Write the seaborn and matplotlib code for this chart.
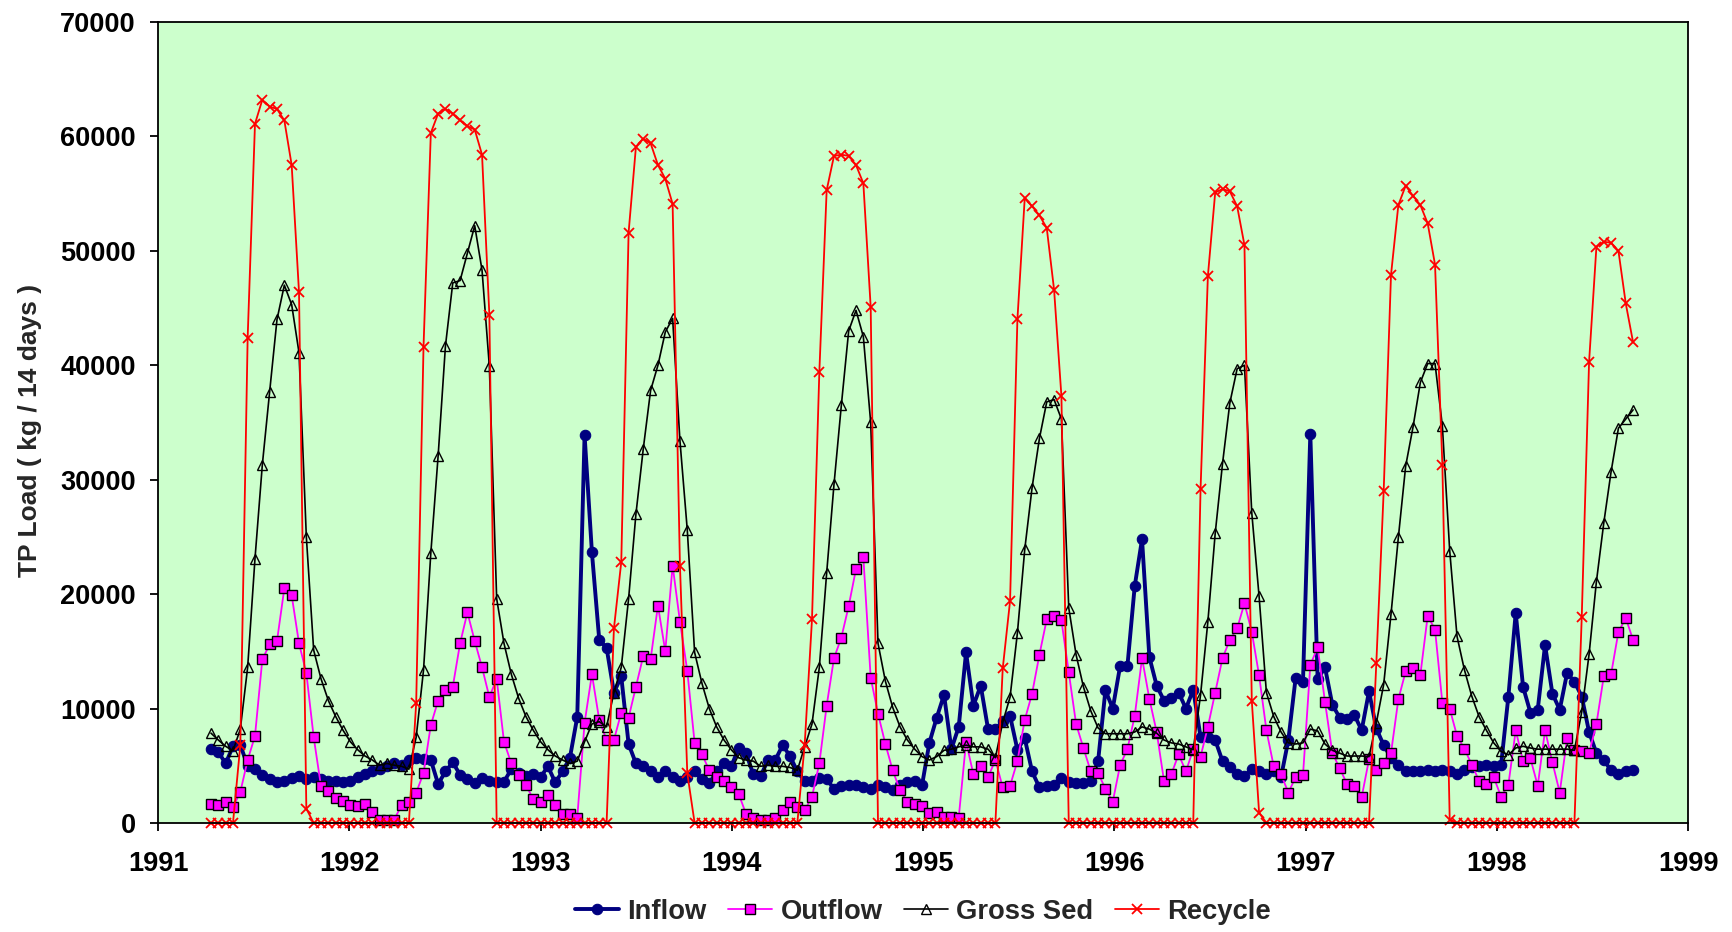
import matplotlib
matplotlib.use("Agg")
import matplotlib.pyplot as plt
import seaborn as sns
import pandas as pd
import numpy as np

# biweekly samples, first one in April 1991
start_date = "1991-04-12"

inflow = [
    6500, 6200, 5200, 6700, 6800, 5000, 4700, 4200, 3800, 3600,
    3700, 3900, 4100, 3800, 4000, 3800, 3700, 3700, 3600, 3700,
    4000, 4300, 4500, 4700, 5000, 5200, 5100, 5500, 5700, 5600,
    5500, 3400, 4500, 5300, 4200, 3800, 3500, 3900, 3700, 3600,
    3600, 4700, 4400, 4100, 4250, 4000, 4950, 3550, 4500, 5700,
    9250, 33900, 23650, 16000, 15300, 11400, 12800, 6900, 5200, 4950,
    4500, 4000, 4500, 4000, 3700, 4000, 4500, 3800, 3450, 4500,
    5200, 4950, 6550, 6100, 4250, 4100, 5500, 5500, 6800, 5850,
    4500, 3650, 3650, 3900, 3800, 3000, 3200, 3300, 3300, 3100,
    3000, 3300, 3100, 2850, 3300, 3550, 3700, 3300, 7000, 9200,
    11200, 6450, 8400, 14900, 10250, 12000, 8200, 8200, 8900, 9350,
    6400, 7400, 4500, 3100, 3200, 3300, 3900, 3550, 3450, 3450,
    3650, 5400, 11600, 10000, 13700, 13700, 20700, 24800, 14500, 12000,
    10700, 10950, 11400, 10000, 11650, 7500, 7500, 7250, 5400, 4850,
    4250, 4100, 4700, 4500, 4250, 4500, 4000, 7250, 12700, 12350,
    34000, 12550, 13600, 10350, 9200, 9100, 9450, 8100, 11500, 8250,
    6800, 5700, 5050, 4500, 4500, 4500, 4600, 4500, 4600, 4500,
    4250, 4600, 4850, 4950, 5050, 4950, 5050, 11050, 18350, 11900,
    9650, 9900, 15550, 11300, 9900, 13100, 12350, 11050, 7950, 6100,
    5500, 4600, 4250, 4500, 4650,
]

outflow = [
    1700, 1600, 1850, 1400, 2700, 5500, 7600, 14300, 15600, 15900,
    20500, 19900, 15700, 13100, 7500, 3200, 2800, 2200, 1950, 1550,
    1500, 1700, 1000, 300, 300, 300, 1550, 1850, 2650, 4350,
    8550, 10700, 11600, 11900, 15700, 18400, 15900, 13600, 11000, 12600,
    7100, 5200, 4150, 3300, 2100, 1850, 2400, 1550, 800, 800,
    450, 8750, 13000, 9000, 7250, 7250, 9650, 9200, 11900, 14600,
    14300, 19000, 15000, 22500, 17600, 13300, 7000, 6000, 4600, 4000,
    3650, 3100, 2550, 800, 450, 300, 300, 450, 1100, 1850,
    1400, 1100, 2300, 5200, 10250, 14400, 16200, 18950, 22200, 23200,
    12700, 9550, 6900, 4600, 2850, 1850, 1650, 1500, 900, 1000,
    550, 550, 450, 7100, 4250, 4950, 4000, 5500, 3100, 3250,
    5400, 9000, 11300, 14700, 17800, 18100, 17700, 13200, 8650, 6550,
    4500, 4350, 3000, 1850, 5050, 6450, 9350, 14400, 10850, 7950,
    3700, 4250, 6000, 4500, 6450, 5800, 8400, 11400, 14400, 16000,
    17000, 19200, 16700, 12900, 8100, 4950, 4250, 2650, 4000, 4150,
    13800, 15350, 10600, 6100, 4800, 3400, 3250, 2250, 5550, 4600,
    5200, 6100, 10800, 13250, 13500, 12950, 18100, 16900, 10500, 10000,
    7600, 6500, 5100, 3700, 3400, 4000, 2300, 3350, 8100, 5400,
    5650, 3250, 8100, 5300, 2650, 7400, 6400, 6300, 6100, 8650,
    12800, 13000, 16700, 17900, 16000,
]

gross_sed = [
    7850, 7250, 6700, 6300, 8200, 13600, 23100, 31300, 37700, 44000,
    47000, 45300, 41100, 25000, 15100, 12600, 10700, 9300, 8100, 7100,
    6400, 5850, 5500, 5050, 5200, 5050, 4950, 4700, 7500, 13350,
    23600, 32100, 41700, 47200, 47400, 49800, 52200, 48300, 39900, 19600,
    15700, 13000, 10900, 9300, 8100, 7100, 6400, 5850, 5500, 5200,
    5400, 7100, 8650, 8850, 8400, 11400, 13600, 19600, 27000, 32700,
    37800, 40000, 42900, 44100, 33400, 25600, 14900, 12200, 10000, 8400,
    7250, 6400, 5700, 5500, 5400, 4950, 5050, 4950, 4950, 4850,
    4600, 6650, 8650, 13600, 21850, 29600, 36500, 43000, 44800, 42500,
    35000, 15700, 12400, 10100, 8400, 7250, 6450, 5800, 5500, 5800,
    6350, 6450, 6650, 6800, 6650, 6650, 6450, 5700, 8800, 11000,
    16600, 23900, 29300, 33600, 36800, 37000, 35300, 18800, 14700, 11900,
    9800, 8300, 7800, 7800, 7800, 7800, 7950, 8400, 8200, 7850,
    7250, 7000, 6900, 6650, 6400, 11200, 17600, 25300, 31400, 36700,
    39700, 40000, 27100, 19800, 11400, 9300, 7950, 7000, 6900, 7000,
    8200, 8050, 6900, 6350, 6100, 5850, 5850, 5850, 5800, 8750,
    12100, 18250, 24950, 31200, 34600, 38500, 40150, 40150, 34700, 23800,
    16300, 13400, 11100, 9300, 8100, 7000, 6250, 5950, 6550, 6700,
    6550, 6450, 6450, 6450, 6450, 6450, 6350, 9700, 14750, 21100,
    26200, 30700, 34500, 35300, 36100,
]

recycle = [
    0, 0, 0, 0, 6800, 42400, 61100, 63200, 62600, 62400,
    61400, 57500, 46400, 1250, 0, 0, 0, 0, 0, 0,
    0, 0, 0, 0, 0, 0, 0, 0, 10500, 41600,
    60300, 62000, 62400, 62000, 61400, 60900, 60600, 58400, 44400, 0,
    0, 0, 0, 0, 0, 0, 0, 0, 0, 0,
    0, 0, 0, 0, 0, 17000, 22800, 51600, 59100, 59800,
    59400, 57500, 56300, 54100, 22500, 4350, 0, 0, 0, 0,
    0, 0, 0, 0, 0, 0, 0, 0, 0, 0,
    0, 6800, 17800, 39400, 55300, 58300, 58400, 58300, 57500, 55900,
    45100, 0, 0, 0, 0, 0, 0, 0, 0, 0,
    0, 0, 0, 0, 0, 0, 0, 0, 13500, 19400,
    44000, 54600, 53900, 53100, 52000, 46600, 37300, 0, 0, 0,
    0, 0, 0, 0, 0, 0, 0, 0, 0, 0,
    0, 0, 0, 0, 0, 29200, 47800, 55100, 55400, 55200,
    53900, 50500, 10700, 900, 0, 0, 0, 0, 0, 0,
    0, 0, 0, 0, 0, 0, 0, 0, 0, 14000,
    29000, 47900, 54000, 55700, 54800, 54000, 52400, 48800, 31300, 300,
    0, 0, 0, 0, 0, 0, 0, 0, 0, 0,
    0, 0, 0, 0, 0, 0, 0, 18000, 40300, 50350,
    50800, 50700, 50000, 45400, 42000,
]

series_names = ["Inflow", "Outflow", "Gross Sed", "Recycle"]
year_ticks = list(range(1991, 2000))
load_ticks = list(range(0, 70001, 10000))

# decimal year for each sample date
dates = pd.date_range(start_date, periods=len(inflow), freq="14D")
days_in_year = np.where(dates.is_leap_year, 366, 365)
year = dates.year + (dates.dayofyear - 1) / days_in_year

df = pd.DataFrame({
    "year": year,
    "Inflow": inflow,
    "Outflow": outflow,
    "Gross Sed": gross_sed,
    "Recycle": recycle,
})

sns.set_theme(style="ticks")
plt.rcParams["font.family"] = ["Liberation Sans", "DejaVu Sans"]
plt.rcParams["font.weight"] = "bold"
plt.rcParams["axes.labelweight"] = "bold"

styles = {
    "Inflow": dict(color="#000080", linewidth=2.8, marker="o", markersize=7.5,
                   markerfacecolor="#000080", markeredgecolor="#000080",
                   markeredgewidth=0.8),
    "Outflow": dict(color="#FF00FF", linewidth=1.3, marker="s", markersize=6.8,
                    markerfacecolor="#FF00FF", markeredgecolor="black",
                    markeredgewidth=1.0),
    "Gross Sed": dict(color="black", linewidth=1.2, marker="^", markersize=7,
                      markerfacecolor="none", markeredgecolor="black",
                      markeredgewidth=1.0),
    "Recycle": dict(color="#FF0000", linewidth=1.3, marker="x", markersize=7.5,
                    markeredgecolor="#FF0000", markeredgewidth=1.3),
}

fig = plt.figure(figsize=(17.33, 9.32), dpi=100)
ax = fig.add_axes([0.0912, 0.1170, 0.8829, 0.8594])
ax.set_facecolor("#CCFFCC")

for name in series_names:
    sns.lineplot(data=df, x="year", y=name, ax=ax, label=name,
                 estimator=None, errorbar=None, sort=False,
                 clip_on=False, **styles[name])

ax.set_xlim(1991, 1999)
ax.set_ylim(0, 70000)
ax.set_xticks(year_ticks)
ax.set_yticks(load_ticks)
ax.set_xlabel("")
ax.set_ylabel("TP Load ( kg / 14 days )", fontsize=19, fontweight="bold")
ax.yaxis.set_label_coords(-0.076, 0.49)

for side in ["left", "right", "top", "bottom"]:
    ax.spines[side].set_visible(True)
    ax.spines[side].set_color("black")
    ax.spines[side].set_linewidth(1.3)

ax.tick_params(axis="both", direction="out", length=6, width=1.3,
               labelsize=19.5, colors="black")
ax.tick_params(axis="x", pad=14)
ax.tick_params(axis="y", pad=10)
for lbl in ax.get_xticklabels() + ax.get_yticklabels():
    lbl.set_fontweight("bold")

ax.legend(loc="center", bbox_to_anchor=(0.5, -0.111), ncol=4, frameon=False,
          handlelength=1.6, handletextpad=0.3, columnspacing=0.8,
          prop={"size": 19.7, "weight": "bold"})

fig.savefig("out.png", dpi=100)
